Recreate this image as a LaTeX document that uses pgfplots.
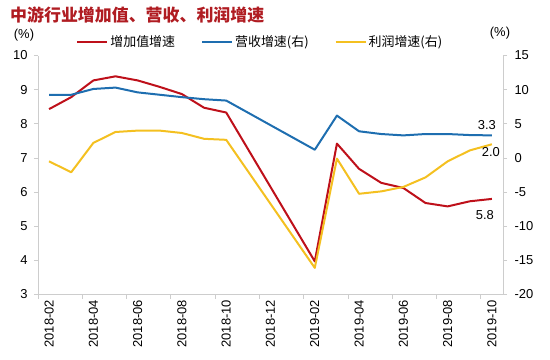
\documentclass[border=0pt]{standalone}
\usepackage{fontspec}
\setmainfont{Liberation Sans}
\newfontfamily\cjk{Noto Sans CJK SC}
\usepackage{pgfplots}
\pgfplotsset{compat=1.18}
\definecolor{cred}{RGB}{190,16,26}
\definecolor{cblue}{RGB}{30,110,176}
\definecolor{cyel}{RGB}{244,192,32}
\definecolor{ctitle}{RGB}{176,28,34}
\definecolor{caxis}{RGB}{205,205,205}
\pgfplotsset{
  common/.style={
    width=465bp, height=239bp, scale only axis,
    at={(38bp,65.5bp)}, anchor=south west,
    xmin=-0.5, xmax=20.5,
    axis line style={caxis, line width=0.8bp, -},
    tick align=outside, major tick length=4bp,
    tick style={caxis, line width=0.8bp},
    tick label style={font=\fontsize{13}{13}\selectfont},
    /pgf/number format/assume math mode=true,
    /pgf/number format/fixed,
  },
}
\begin{document}
\begin{tikzpicture}
\path[use as bounding box] (0,0) rectangle (550bp,360bp);
\begin{axis}[common,
  ymin=3, ymax=10, ytick={3,4,...,10},
  axis x line*=bottom, axis y line*=left,
  y tick label style={xshift=-3bp},
  xtick={-0.5,1.5,...,19.5}, xticklabels={},
  extra x ticks={0,2,...,20},
  extra x tick labels={2018-02,2018-04,2018-06,2018-08,2018-10,2018-12,2019-02,2019-04,2019-06,2019-08,2019-10},
  extra x tick style={grid=none, major tick length=0pt},
  x tick label style={rotate=90, anchor=east, yshift=0bp, xshift=-2bp},
]
\addplot[cred, line width=2bp, line join=round, mark=none] coordinates {
(0,8.43)(1,8.78)(2,9.27)(3,9.39)(4,9.27)(5,9.08)(6,8.87)(7,8.47)(8,8.33)
(12,3.97)(13,7.42)(14,6.68)(15,6.27)(16,6.12)(17,5.68)(18,5.58)(19,5.73)(20,5.8)};
\node[font=\fontsize{13}{13}\selectfont, xshift=-7bp, yshift=-16bp] at (axis cs:20,5.8) {5.8};
\end{axis}
\begin{axis}[common,
  ymin=-20, ymax=15, ytick={-20,-15,...,15},
  axis y line*=right, axis x line=none,
  y tick label style={xshift=4bp},
  legend style={draw=none, fill=none, at={(0.478,1.0565)}, anchor=center,
    font=\cjk\fontsize{13}{13}\selectfont,
    /tikz/every even column/.append style={column sep=24bp}},
  legend columns=3,
  legend image code/.code={\draw[#1] (0bp,0bp) -- (30bp,0bp);},
]
\addlegendimage{cred, line width=2bp}
\addlegendentry{增加值增速}
\addplot[cblue, line width=2bp, line join=round, mark=none] coordinates {
(0,9.25)(1,9.25)(2,10.1)(3,10.3)(4,9.6)(5,9.25)(6,8.9)(7,8.6)(8,8.4)
(12,1.2)(13,6.2)(14,3.9)(15,3.5)(16,3.3)(17,3.5)(18,3.5)(19,3.35)(20,3.3)};
\addlegendentry{营收增速(右)}
\addplot[cyel, line width=2bp, line join=round, mark=none] coordinates {
(0,-0.5)(1,-2.1)(2,2.2)(3,3.8)(4,4.0)(5,4.0)(6,3.65)(7,2.8)(8,2.65)
(12,-16.1)(13,-0.1)(14,-5.25)(15,-4.9)(16,-4.25)(17,-2.85)(18,-0.5)(19,1.1)(20,2.0)};
\addlegendentry{利润增速(右)}
\node[font=\fontsize{13}{13}\selectfont, xshift=-5bp, yshift=10bp] at (axis cs:20,3.3) {3.3};
\node[font=\fontsize{13}{13}\selectfont, xshift=-1bp, yshift=-8bp] at (axis cs:20,2.0) {2.0};
\end{axis}
\node[anchor=west, text=ctitle, font=\cjk\bfseries\fontsize{17}{17}\selectfont, inner sep=0pt] at (10bp,345bp) {中游行业增加值、营收、利润增速};
\node[font=\fontsize{13}{13}\selectfont] at (24bp,325bp) {(\%)};
\node[font=\fontsize{13}{13}\selectfont] at (500bp,327bp) {(\%)};
\end{tikzpicture}
\end{document}
